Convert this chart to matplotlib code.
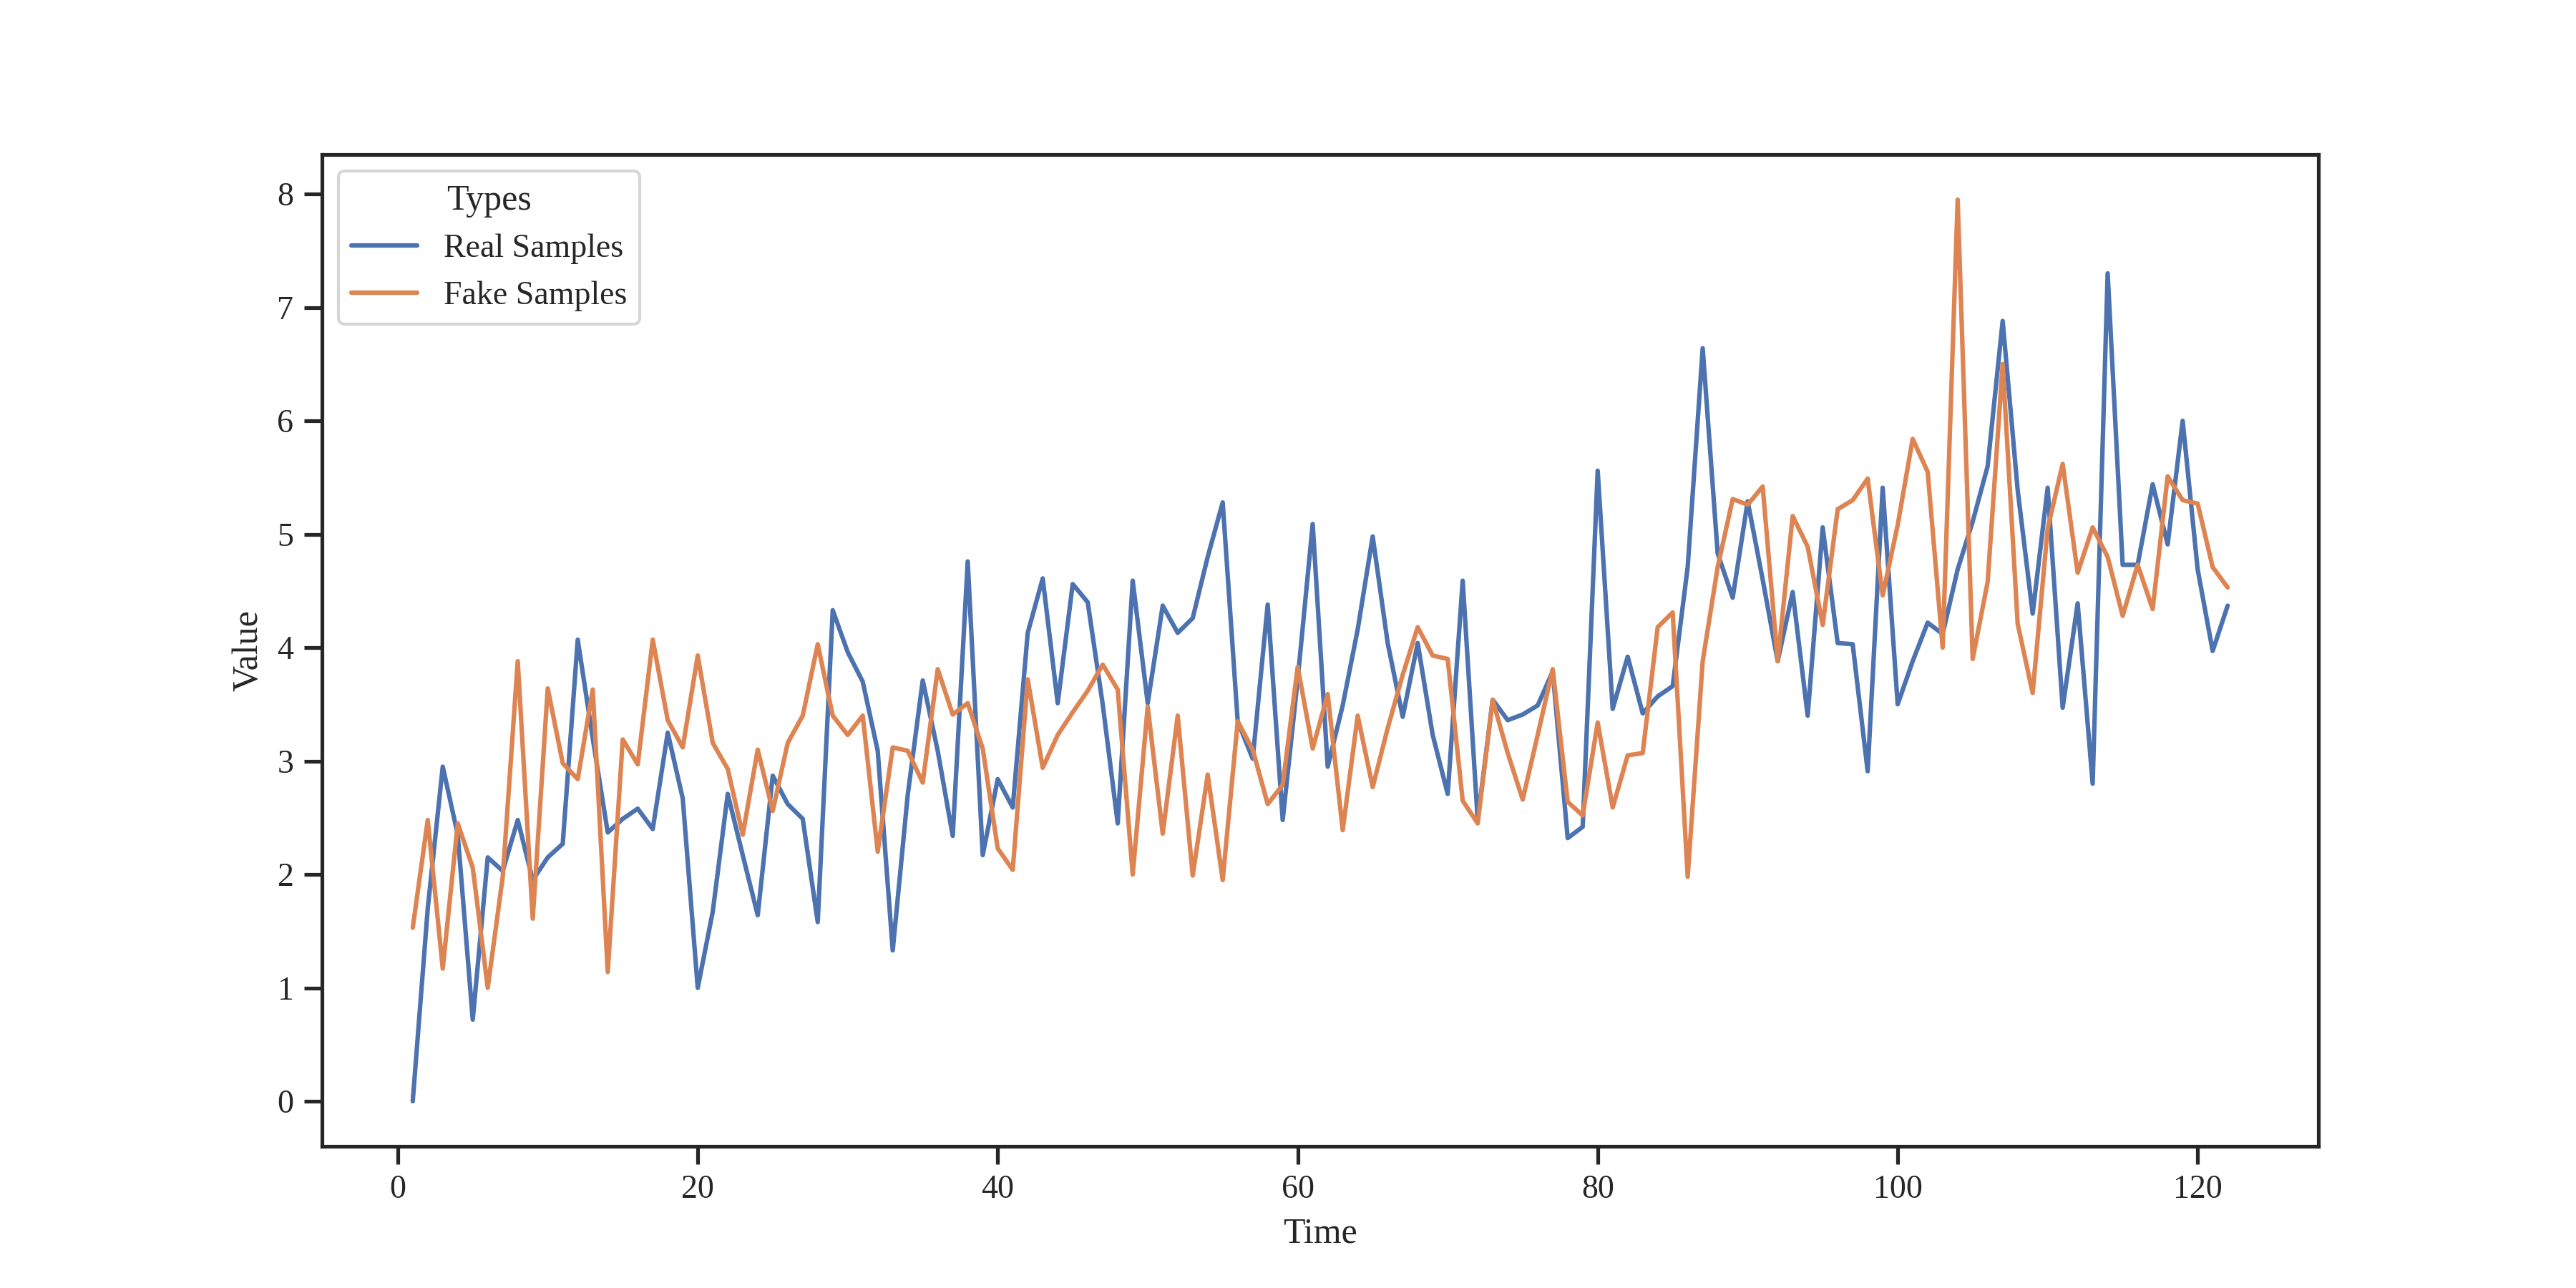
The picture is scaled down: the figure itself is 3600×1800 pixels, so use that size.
import matplotlib
matplotlib.use("Agg")
import matplotlib.pyplot as plt
import seaborn as sns
import pandas as pd
import numpy as np

time = list(range(1, 123))

real_samples = [
    0.0, 1.7, 2.95, 2.35, 0.72, 2.15, 2.03, 2.48, 1.95, 2.15,
    2.27, 4.07, 3.2, 2.37, 2.49, 2.58, 2.40, 3.25, 2.67, 1.0,
    1.67, 2.71, 2.17, 1.64, 2.87, 2.62, 2.49, 1.58, 4.33, 3.96,
    3.70, 3.09, 1.33, 2.70, 3.71, 3.09, 2.34, 4.76, 2.17, 2.84,
    2.59, 4.13, 4.61, 3.51, 4.56, 4.40, 3.5, 2.45, 4.59, 3.51,
    4.37, 4.13, 4.26, 4.80, 5.28, 3.35, 3.02, 4.38, 2.48, 3.72,
    5.09, 2.95, 3.49, 4.16, 4.98, 4.04, 3.39, 4.04, 3.23, 2.71,
    4.59, 2.48, 3.54, 3.36, 3.41, 3.49, 3.79, 2.32, 2.42, 5.56,
    3.46, 3.92, 3.42, 3.57, 3.66, 4.71, 6.64, 4.83, 4.44, 5.29,
    4.6, 3.88, 4.49, 3.40, 5.06, 4.04, 4.03, 2.91, 5.41, 3.50,
    3.88, 4.22, 4.12, 4.69, 5.11, 5.60, 6.88, 5.39, 4.30, 5.41,
    3.47, 4.39, 2.80, 7.30, 4.73, 4.73, 5.44, 4.91, 6.0, 4.69,
    3.97, 4.37,
]

fake_samples = [
    1.53, 2.48, 1.17, 2.45, 2.06, 1.0, 1.98, 3.88, 1.61, 3.64,
    2.98, 2.84, 3.63, 1.14, 3.19, 2.97, 4.07, 3.36, 3.12, 3.93,
    3.16, 2.93, 2.35, 3.10, 2.56, 3.16, 3.40, 4.03, 3.40, 3.23,
    3.40, 2.20, 3.12, 3.09, 2.81, 3.81, 3.41, 3.51, 3.11, 2.23,
    2.04, 3.72, 2.94, 3.23, 3.43, 3.62, 3.85, 3.63, 2.0, 3.48,
    2.36, 3.40, 1.99, 2.88, 1.95, 3.35, 3.10, 2.62, 2.79, 3.83,
    3.11, 3.59, 2.39, 3.40, 2.77, 3.29, 3.76, 4.18, 3.93, 3.90,
    2.65, 2.45, 3.54, 3.07, 2.66, 3.23, 3.81, 2.64, 2.52, 3.34,
    2.59, 3.05, 3.07, 4.18, 4.31, 1.98, 3.88, 4.71, 5.31, 5.26,
    5.42, 3.88, 5.16, 4.89, 4.20, 5.22, 5.30, 5.49, 4.46, 5.08,
    5.84, 5.55, 4.0, 7.95, 3.90, 4.58, 6.50, 4.21, 3.60, 5.05,
    5.62, 4.66, 5.06, 4.80, 4.28, 4.73, 4.34, 5.51, 5.30, 5.27,
    4.71, 4.53,
]

type_labels = ["Real Samples", "Fake Samples"]

sns.set_theme(style="ticks", context="notebook")
plt.rcParams["font.family"] = ["Liberation Serif", "DejaVu Serif"]

df = pd.DataFrame({
    "Time": time * 2,
    "Value": real_samples + fake_samples,
    "Types": [type_labels[0]] * len(time) + [type_labels[1]] * len(time),
})

fig, ax = plt.subplots(figsize=(12, 6), dpi=300)
sns.lineplot(data=df, x="Time", y="Value", hue="Types", ax=ax)
ax.legend(title="Types", loc="upper left")

fig.savefig("out.png", dpi=300)
